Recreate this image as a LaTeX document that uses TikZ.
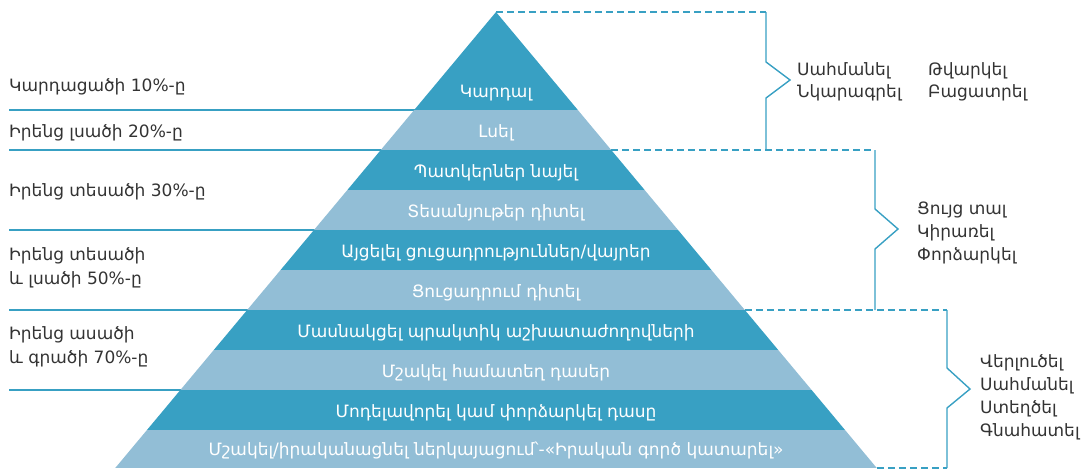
\documentclass[tikz,border=0pt]{standalone}
\usepackage{fontspec}
\setmainfont{DejaVu Sans}
\usetikzlibrary{positioning}
\definecolor{pyrdark}{HTML}{38A0C3}
\definecolor{pyrlight}{HTML}{92BED6}
\definecolor{txtgray}{HTML}{333333}
\tikzset{
  leftlbl/.style={anchor=west,align=left,text=txtgray,font=\fontsize{17}{24}\selectfont,inner sep=0pt},
  bandlbl/.style={anchor=base,text=white,font=\fontsize{17}{20}\selectfont,inner sep=0pt},
  rightlbl/.style={anchor=west,align=left,text=txtgray,font=\fontsize{17}{23}\selectfont,inner sep=0pt},
  guide/.style={draw=blx,line width=1.4pt},
  dashguide/.style={guide,dash pattern=on 7pt off 4pt}
}

\begin{document}
\begin{tikzpicture}[x=1pt,y=-1pt]
    \colorlet{blx}{pyrdark}
    \colorlet{bly}{pyrlight}
    \def\k{0.835}
    \useasboundingbox (0,0) rectangle (1086,471);

    \coordinate (apex) at (496,12);

    % lines on the left, under the pyramid
    \foreach \y [count=\i] in {110,150,230,310,390} {
        \coordinate (ln\i) at (9,\y);
        \draw[guide] (ln\i) -- (ln\i -| apex);
    }

    % the bands
    \foreach \yt/\yb/\c [count=\i] in {12/110/blx,110/150/bly,150/190/blx,190/230/bly,230/270/blx,
                                        270/310/bly,310/350/blx,350/390/bly,390/430/blx,430/468/bly} {
        \fill[\c] ({496-\k*(\yt-12)},\yt) -- ({496+\k*(\yt-12)},\yt)
            -- ({496+\k*(\yb-12)},\yb) -- ({496-\k*(\yb-12)},\yb) -- cycle;
        \draw[white,line width=0.6pt] ({496-\k*(\yb-12)},\yb) -- ({496+\k*(\yb-12)},\yb);
        \coordinate (b\i) at (496,\yb-13);
    }

    \node[bandlbl] (t1) at (b1) {Կարդալ};
    \node[bandlbl] (t2) at (b2) {Լսել};
    \node[bandlbl] (t3) at (b3) {Պատկերներ նայել};
    \node[bandlbl] (t4) at (b4) {Տեսանյութեր դիտել};
    \node[bandlbl] (t5) at (b5) {Այցելել ցուցադրություններ/վայրեր};
    \node[bandlbl] (t6) at (b6) {Ցուցադրում դիտել};
    \node[bandlbl] (t7) at (b7) {Մասնակցել պրակտիկ աշխատաժողովների};
    \node[bandlbl] (t8) at (b8) {Մշակել համատեղ դասեր};
    \node[bandlbl] (t9) at (b9) {Մոդելավորել կամ փորձարկել դասը};
    \node[bandlbl] (t10) at (b10) {Մշակել/իրականացնել ներկայացում՝-«Իրական գործ կատարել»};

    % left labels
    \node[leftlbl] (p10) at (9,87) {Կարդացածի 10\%-ը};
    \node[leftlbl] (p20) at (9,133) {Իրենց լսածի 20\%-ը};
    \node[leftlbl] (p30) at (9,192) {Իրենց տեսածի 30\%-ը};
    \node[leftlbl] (p50) at (9,268) {Իրենց տեսածի\\և լսածի 50\%-ը};
    \node[leftlbl] (p70) at (9,347) {Իրենց ասածի\\և գրածի 70\%-ը};

    % brackets on the right
    \draw[dashguide] (apex) -- (766,12);
    \draw[guide] (766,12) -- (766,62) -- (790,80) -- (766,98) -- (766,150);
    \draw[dashguide] ({496+\k*138},150) -- (875,150);
    \draw[guide] (875,150) -- (875,209) -- (898,229) -- (875,249) -- (875,310);
    \draw[dashguide] ({496+\k*298},310) -- (947,310);
    \draw[guide] (947,310) -- (947,368) -- (970,389) -- (947,408) -- (947,468);
    \draw[dashguide] ({496+\k*456},468) -- (947,468);

    \node[rightlbl,font=\fontsize{17}{22}\selectfont] (r1) at (797,82) {Սահմանել\\Նկարագրել};
    \node[rightlbl,font=\fontsize{17}{22}\selectfont] (r2) at (928,82) {Թվարկել\\Բացատրել};
    \node[rightlbl] (r3) at (917,233) {Ցույց տալ\\Կիրառել\\Փորձարկել};
    \node[rightlbl] (r4) at (980,397) {Վերլուծել\\Սահմանել\\Ստեղծել\\Գնահատել};
\end{tikzpicture}
\end{document}
